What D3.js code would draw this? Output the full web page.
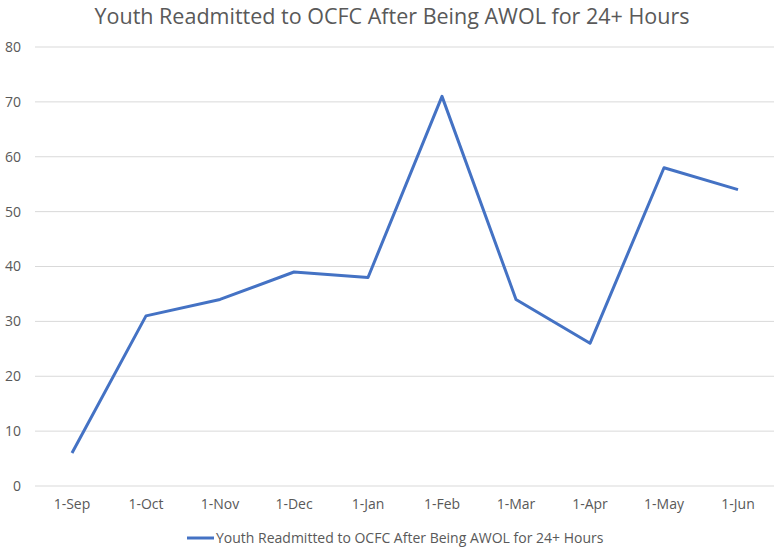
<!DOCTYPE html>
<html>
<head>
<meta charset="utf-8">
<script src="https://cdn.jsdelivr.net/npm/d3@7"></script>
<style>
  body { margin: 0; background: #fff; }
  text { font-family: "Open Sans", sans-serif; fill: #595959; }
</style>
</head>
<body>
<script>
// Chart data.
const months = ['1-Sep', '1-Oct', '1-Nov', '1-Dec', '1-Jan', '1-Feb', '1-Mar', '1-Apr', '1-May', '1-Jun'];
const readmitted = [6, 31, 34, 39, 38, 71, 34, 26, 58, 54];
const yTicks = [0, 10, 20, 30, 40, 50, 60, 70, 80];
const seriesName = 'Youth Readmitted to OCFC After Being AWOL for 24+ Hours';

// Dimensions.
const size = {width: 774, height: 550};
const plot = {top: 47, bottom: 486, left: 35, right: 775};

const svg = d3.select('body')
  .append('svg')
  .attr('width', size.width)
  .attr('height', size.height);

// Scales.
const xScale = d3.scaleBand()
  .domain(months)
  .range([plot.left, plot.right]);

const yScale = d3.scaleLinear()
  .domain([0, 80])
  .range([plot.bottom, plot.top]);

// Gridlines.
svg.append('g')
  .selectAll('line')
  .data(yTicks)
  .enter()
  .append('line')
  .attr('x1', plot.left)
  .attr('x2', size.width)
  .attr('y1', (d) => yScale(d))
  .attr('y2', (d) => yScale(d))
  .attr('stroke', '#d9d9d9')
  .attr('stroke-width', 1);

// Y axis labels.
const yAxis = d3.axisLeft(yScale)
  .tickValues(yTicks)
  .tickSize(0)
  .tickPadding(14);

svg.append('g')
  .attr('id', 'y-axis')
  .attr('transform', 'translate(' + plot.left + ', 0)')
  .call(yAxis)
  .call((g) => g.select('.domain').remove())
  .selectAll('text')
  .style('font-size', '14px')
  .style('font-family', '"Open Sans", sans-serif')
  .attr('fill', '#595959');

// X axis labels.
const xAxis = d3.axisBottom(xScale)
  .tickSize(0)
  .tickPadding(13);

svg.append('g')
  .attr('id', 'x-axis')
  .attr('transform', 'translate(0, ' + plot.bottom + ')')
  .call(xAxis)
  .call((g) => g.select('.domain').remove())
  .selectAll('text')
  .style('font-size', '14px')
  .style('font-family', '"Open Sans", sans-serif')
  .attr('fill', '#595959');

// Line.
const line = d3.line()
  .x((d, i) => xScale(months[i]) + xScale.bandwidth() / 2)
  .y((d) => yScale(d));

svg.append('path')
  .datum(readmitted)
  .attr('d', line)
  .attr('fill', 'none')
  .attr('stroke', '#4472C4')
  .attr('stroke-width', 3)
  .attr('stroke-linejoin', 'round');

// Title.
svg.append('text')
  .attr('x', size.width / 2 + 5)
  .attr('y', 24)
  .attr('text-anchor', 'middle')
  .style('font-size', '21.5px')
  .text(seriesName);

// Legend.
const legend = svg.append('g')
  .attr('transform', 'translate(187, 538)');

legend.append('line')
  .attr('x1', 0)
  .attr('x2', 27)
  .attr('stroke', '#4472C4')
  .attr('stroke-width', 3);

legend.append('text')
  .attr('x', 29)
  .attr('y', 5)
  .style('font-size', '14px')
  .text(seriesName);
</script>
</body>
</html>
